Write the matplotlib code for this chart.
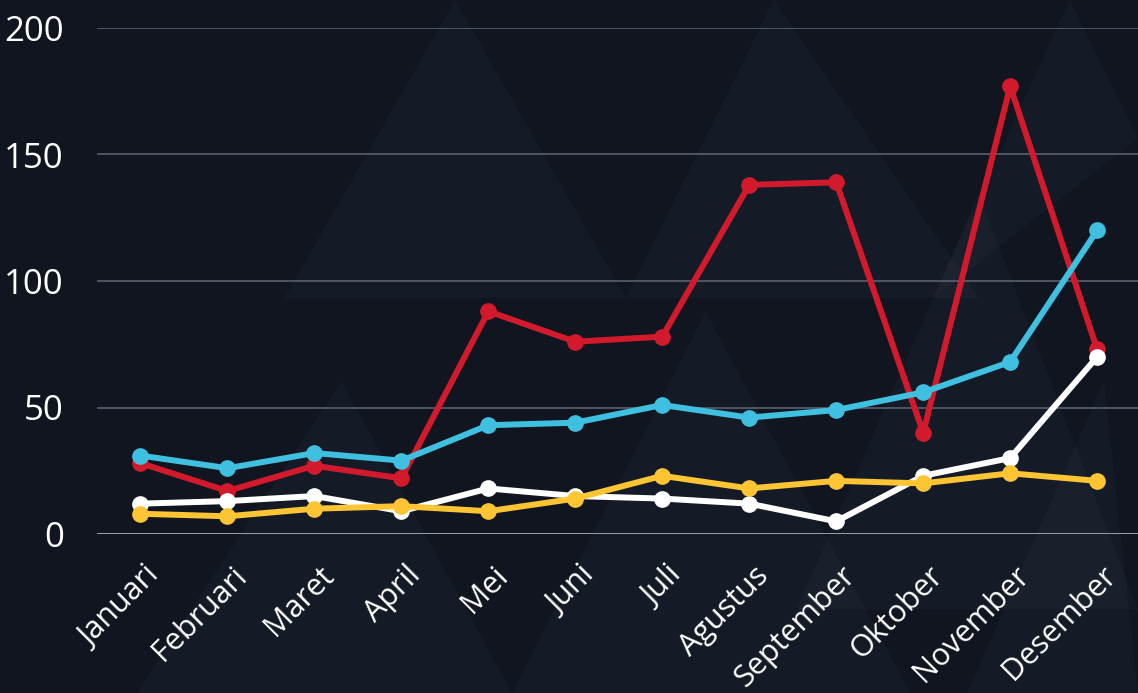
import numpy as np
import matplotlib.pyplot as plt
from matplotlib.patches import Polygon
from matplotlib.transforms import ScaledTranslation

bulan = ['Januari', 'Februari', 'Maret', 'April', 'Mei', 'Juni', 'Juli',
         'Agustus', 'September', 'Oktober', 'November', 'Desember']

merah = [28, 17, 27, 22, 88, 76, 78, 138, 139, 40, 177, 73]
putih = [12, 13, 15, 9, 18, 15, 14, 12, 5, 23, 30, 70]
biru = [31, 26, 32, 29, 43, 44, 51, 46, 49, 56, 68, 120]
kuning = [8, 7, 10, 11, 9, 14, 23, 18, 21, 20, 24, 21]

bg = '#10151f'
plt.rcParams['font.family'] = ['Open Sans', 'DejaVu Sans']

fig = plt.figure(figsize=(11.38, 6.93), dpi=100, facecolor=bg)

# faint triangle pattern behind the chart
bgax = fig.add_axes([0, 0, 1, 1], zorder=-1)
bgax.set_xlim(0, 1)
bgax.set_ylim(0, 1)
bgax.axis('off')
tri = [((0.45, 0.0), (0.62, 0.55), (0.80, 0.0)),
       ((0.55, 0.57), (0.68, 1.0), (0.86, 0.57)),
       ((0.70, 0.12), (0.86, 0.72), (1.0, 0.12)),
       ((0.82, 0.57), (0.94, 1.0), (1.0, 0.80)),
       ((0.85, 0.0), (0.97, 0.45), (1.0, 0.0)),
       ((0.12, 0.0), (0.30, 0.45), (0.45, 0.0)),
       ((0.25, 0.57), (0.40, 1.0), (0.55, 0.57))]
for t in tri:
    bgax.add_patch(Polygon(t, closed=True, facecolor='#2c3643',
                           alpha=0.2, lw=0))

ax = fig.add_axes([97 / 1138, 1 - 534 / 693, 1 - 97 / 1138, (534 - 28) / 693])
ax.set_facecolor('none')

x = np.arange(len(bulan))
gaya = dict(lw=4.3, marker='o', ms=11, clip_on=False)
ax.plot(x, merah, color='#d31a2c', zorder=3, **gaya)
ax.plot(x, putih, color='#ffffff', zorder=4, **gaya)
ax.plot(x, biru, color='#3fc0e0', zorder=5, **gaya)
ax.plot(x, kuning, color='#fdc433', zorder=6, **gaya)

ax.set_xlim(-0.5, 11.47)
ax.set_ylim(0, 200)
ax.set_yticks([0, 50, 100, 150, 200])
ax.grid(axis='y', color='#6b7180', lw=1.2, alpha=0.8)
ax.axhline(0, color='#9a9ea6', lw=1.4, zorder=1)
ax.set_axisbelow(True)
for s in ax.spines.values():
    s.set_visible(False)

ax.set_xticks(x)
ax.set_xticklabels(bulan, rotation=45, ha='right', va='center',
                   rotation_mode='anchor')
ax.tick_params(axis='x', length=0, pad=0, labelsize=22, labelcolor='white')
ax.tick_params(axis='y', length=0, pad=24, labelsize=25, labelcolor='white')
geser = ScaledTranslation(0.15, -0.37, fig.dpi_scale_trans)
for lbl in ax.get_xticklabels():
    lbl.set_transform(lbl.get_transform() + geser)

fig.savefig('out.png', dpi=100, facecolor=bg)
